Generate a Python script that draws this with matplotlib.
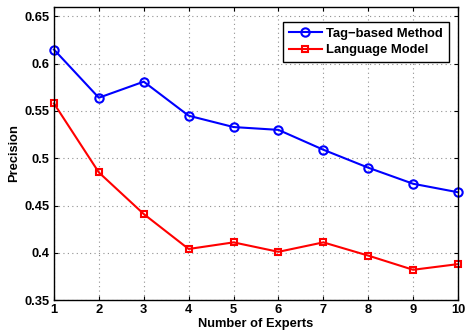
import matplotlib
matplotlib.use("Agg")
import matplotlib.pyplot as plt

plt.rcParams['font.family'] = ['Liberation Sans', 'DejaVu Sans']
plt.rcParams['font.weight'] = 'bold'

experts = [1, 2, 3, 4, 5, 6, 7, 8, 9, 10]
tag_based = [0.615, 0.564, 0.581, 0.545, 0.533, 0.530, 0.509, 0.490, 0.473, 0.464]
language_model = [0.558, 0.485, 0.441, 0.404, 0.411, 0.401, 0.411, 0.397, 0.382, 0.388]
yticks = [0.35, 0.4, 0.45, 0.5, 0.55, 0.6, 0.65]
ytick_labels = ['0.35', '0.4', '0.45', '0.5', '0.55', '0.6', '0.65']

fig = plt.figure(figsize=(4.65, 3.33), dpi=100)
ax = fig.add_axes([0.116, 0.099, 0.869, 0.880])

ax.plot(experts, tag_based, color='#0000ff', lw=1.5, marker='o', ms=6,
        mfc='none', mec='#0000ff', mew=1.5, label='Tag\u2212based Method', clip_on=False)
ax.plot(experts, language_model, color='#ff0000', lw=1.5, marker='s', ms=5,
        mfc='none', mec='#ff0000', mew=1.5, label='Language Model', clip_on=False)

ax.set_xlim(1, 10)
ax.set_ylim(0.35, 0.66)
ax.set_xticks(experts)
ax.set_yticks(yticks)
ax.set_yticklabels(ytick_labels)
ax.tick_params(direction='in', top=True, right=True, labelsize=9.3, length=3, pad=3)
for lbl in ax.get_xticklabels() + ax.get_yticklabels():
    lbl.set_fontweight('bold')
ax.grid(True, color='#909090', linestyle=(0, (1, 3)), linewidth=0.8)
for s in ax.spines.values():
    s.set_linewidth(1.0)

ax.set_xlabel('Number of Experts', fontsize=9.3, fontweight='bold', labelpad=1.5)
ax.set_ylabel('Precision', fontsize=9.3, fontweight='bold', labelpad=3)

leg = ax.legend(loc='upper right', fontsize=9.4, frameon=True, fancybox=False,
                edgecolor='black', framealpha=1, borderpad=0.45, handlelength=2.6,
                bbox_to_anchor=(449 / 465, 1 - 22 / 333), bbox_transform=fig.transFigure,
                borderaxespad=0, labelspacing=0.3, handletextpad=0.3)
leg.get_frame().set_linewidth(1.0)
for t in leg.get_texts():
    t.set_fontweight('bold')

fig.savefig('out.png', dpi=100)
